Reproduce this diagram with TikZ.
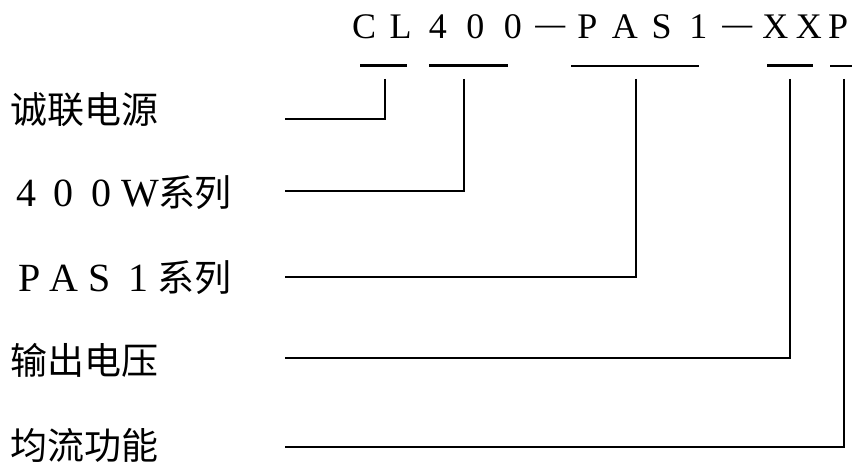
\documentclass[tikz,border=0pt]{standalone}
\usepackage{fontspec}
\setmainfont{Liberation Serif}
\newfontfamily\cjk{Noto Sans CJK SC}
\newcommand\cb[2]{\makebox[#1pt][c]{#2}}
\newcommand\lat[1]{{\normalfont\fontsize{40pt}{40pt}\selectfont #1}}
\newcommand\dsh{\raisebox{3pt}{\scalebox{0.83}[1]{—}}}
\begin{document}
\begin{tikzpicture}[x=1pt,y=-1pt,
  code/.style={anchor=base west, inner sep=0pt, font=\fontsize{36pt}{36pt}\selectfont},
  lab/.style={anchor=base west, inner sep=0pt, font=\cjk\fontsize{37pt}{37pt}\selectfont},
  ulthick/.style={line width=3pt},
  ulthin/.style={line width=2pt},
  conn/.style={line width=2pt}]
\useasboundingbox (0,0) rectangle (859,462);
% code line
\node[code] (code) at (346,39) {\cb{36}{C}\cb{37}{L}\cb{37.5}{4}\cb{37.5}{0}\cb{37.5}{0}\cb{37}{\dsh}\cb{37.5}{P}\cb{37.5}{A}\cb{36}{S}\cb{37.5}{1}\cb{40}{\dsh}\cb{36.5}{X}\cb{30.5}{X}\cb{28}{P}};
% underlines
\coordinate (a1) at (360,66); \coordinate (b1) at (407,66);
\coordinate (a2) at (429,66); \coordinate (b2) at (508,66);
\coordinate (a3) at (571,66); \coordinate (b3) at (699,66);
\coordinate (a4) at (767,66); \coordinate (b4) at (813,66);
\coordinate (a5) at (830,66); \coordinate (b5) at (852,66);
\draw[ulthick] (a1) -- (b1);
\draw[ulthick] (a2) -- (b2);
\draw[ulthin] (a3) -- (b3);
\draw[ulthick] (a4) -- (b4);
\draw[ulthin] (a5) -- (b5);
% labels
\node[lab] (l1) at (10,124) {诚联电源};
\node[lab] (l2) at (8,207) {\cb{36}{\lat4}\cb{38}{\lat0}\cb{39}{\lat0}\cb{38}{\lat W}\cb{36.5}{系}\cb{35.5}{列}};
\node[lab] (l3) at (12,291) {\cb{34.5}{\lat P}\cb{34.5}{\lat A}\cb{37.5}{\lat S}\cb{39}{\lat1}\cb{37.5}{系}\cb{36}{列}};
\node[lab] (l4) at (10,374) {输出电压};
\node[lab] (l5) at (10,459) {均流功能};
% connectors
\coordinate (v1) at (385,79); \coordinate (e1) at (285,119);
\coordinate (v2) at (464,79); \coordinate (e2) at (285,191);
\coordinate (v3) at (636,79); \coordinate (e3) at (285,277);
\coordinate (v4) at (790,79); \coordinate (e4) at (285,358);
\coordinate (v5) at (844,79); \coordinate (e5) at (285,447);
\draw[conn] (v1) |- (e1);
\draw[conn] (v2) |- (e2);
\draw[conn] (v3) |- (e3);
\draw[conn] (v4) |- (e4);
\draw[conn] (v5) |- (e5);
\end{tikzpicture}
\end{document}
